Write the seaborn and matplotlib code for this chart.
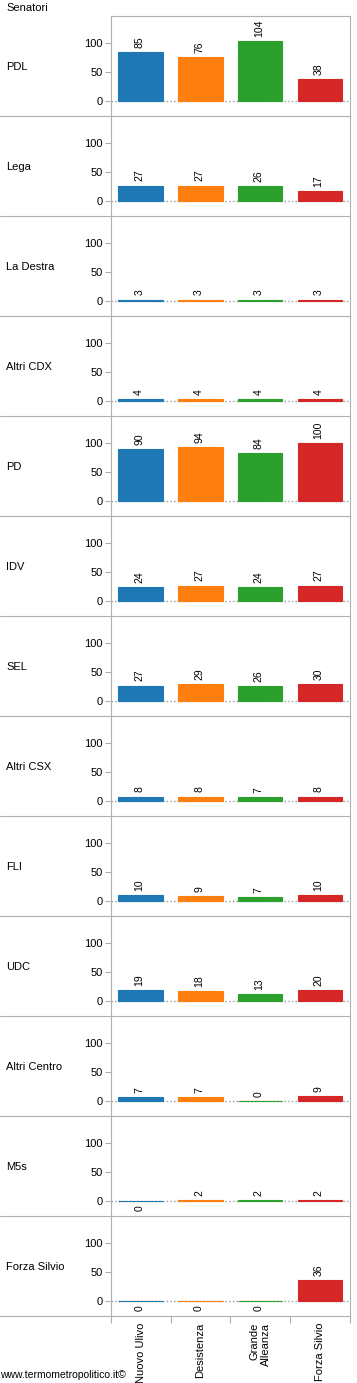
import pandas as pd
import matplotlib.pyplot as plt
from matplotlib.lines import Line2D
import seaborn as sns

# Seggi al Senato per partito, secondo le quattro ipotesi di coalizione
partiti = ["PDL", "Lega", "La Destra", "Altri CDX", "PD", "IDV", "SEL",
           "Altri CSX", "FLI", "UDC", "Altri Centro", "M5s", "Forza Silvio"]
coalizioni = ["Nuovo Ulivo", "Desistenza", "Grande\nAlleanza", "Forza Silvio"]

nuovo_ulivo = [85, 27, 3, 4, 90, 24, 27, 8, 10, 19, 7, 0, 0]
desistenza = [76, 27, 3, 4, 94, 27, 29, 8, 9, 18, 7, 2, 0]
grande_alleanza = [104, 26, 3, 4, 84, 24, 26, 7, 7, 13, 0, 2, 0]
forza_silvio = [38, 17, 3, 4, 100, 27, 30, 8, 10, 20, 9, 2, 36]

colori = ["#1f77b4", "#ff7f0e", "#2ca02c", "#d62728"]

# etichette dei valori messe sotto la linea dello zero (riga, colonna)
sotto = [(11, 0), (12, 0), (12, 1), (12, 2)]

rows = []
for i, p in enumerate(partiti):
    for c, serie in zip(coalizioni, [nuovo_ulivo, desistenza, grande_alleanza, forza_silvio]):
        rows.append({"partito": p, "coalizione": c, "seggi": serie[i]})
df = pd.DataFrame(rows)

sns.set_style("white")
plt.rcParams["font.family"] = ["Liberation Sans", "DejaVu Sans"]
plt.rcParams["text.color"] = "black"

W, H = 357, 1383
fig = plt.figure(figsize=(W / 100, H / 100), dpi=100)
grey = "#b0b0b0"

x0, x1 = 110.7, 350.0
top0, row_h = 15.7, 100.0

for i, p in enumerate(partiti):
    bottom = 1 - (top0 + row_h * (i + 1)) / H
    ax = fig.add_axes([x0 / W, bottom, (x1 - x0) / W, row_h / H])
    sub = df[df["partito"] == p]
    sns.barplot(data=sub, x="coalizione", y="seggi", hue="coalizione",
                palette=colori, width=0.74, ax=ax, legend=False,
                order=coalizioni, hue_order=coalizioni, saturation=1)
    for bar in ax.patches:
        bar.set_edgecolor(bar.get_facecolor())
        bar.set_linewidth(0.8)
        bar.set_zorder(3)
    ax.axhline(0, color="#999999", ls=":", lw=1, zorder=1)

    for j, c in enumerate(coalizioni):
        v = sub[sub["coalizione"] == c]["seggi"].iloc[0]
        if (i, j) in sotto:
            ax.annotate(str(v), (j, v), xytext=(-1, -3), textcoords="offset points",
                        rotation=90, ha="center", va="top", fontsize=7.5, color="black")
        else:
            ax.annotate(str(v), (j, v), xytext=(-1, 3), textcoords="offset points",
                        rotation=90, ha="center", va="bottom", fontsize=7.5, color="black")

    ax.set_ylim(-25, 148)
    ax.set_xlim(-0.5, 3.5)
    ax.set_yticks([0, 50, 100])
    ax.tick_params(axis="y", length=4, width=0.8, color=grey, labelsize=8,
                   labelcolor="black", pad=2, left=True)
    ax.set_ylabel("")
    ax.set_xlabel("")
    for s in ["left", "right"]:
        ax.spines[s].set_color(grey)
        ax.spines[s].set_linewidth(0.8)
    ax.spines["bottom"].set_visible(False)
    ax.spines["top"].set_visible(i == 0)
    ax.spines["top"].set_color(grey)
    ax.spines["top"].set_linewidth(0.8)

    if i == len(partiti) - 1:
        ax.set_xticks(range(4))
        ax.set_xticklabels(coalizioni, rotation=90, fontsize=8, va="top",
                           ha="center", multialignment="right")
        ax.tick_params(axis="x", length=0, pad=5, labelcolor="black")
        ax.set_xticks([-0.5, 0.5, 1.5, 2.5, 3.5], minor=True)
        ax.tick_params(axis="x", which="minor", length=5, width=0.8,
                       color=grey, bottom=True)
    else:
        ax.set_xticks([])

    fig.text(6 / W, 1 - (top0 + row_h * i + 51) / H, p, fontsize=8,
             va="center", ha="left", color="black")

# linee di separazione tra le righe
for k in range(len(partiti)):
    y = 1 - (top0 + row_h * (k + 1)) / H
    fig.add_artist(Line2D([0, x1 / W], [y, y], color=grey, lw=0.8))

fig.text(6 / W, 1 - 8 / H, "Senatori", fontsize=8, va="center", ha="left", color="black")
fig.text(0, 1 - 1375 / H, "www.termometropolitico.it©", fontsize=7.5,
         va="center", ha="left", color="black")

plt.savefig("out.png", dpi=100)
